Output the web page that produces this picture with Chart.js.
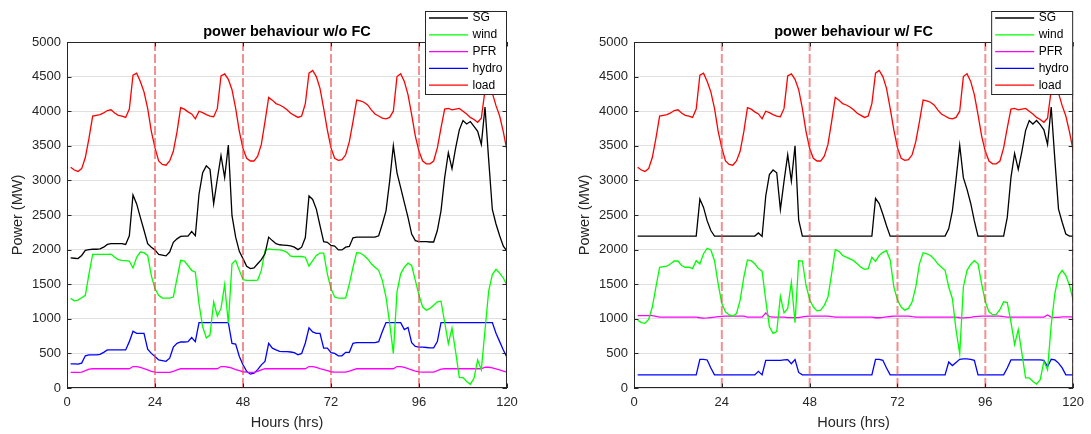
<!DOCTYPE html>
<html lang="en">
<head>
  <meta charset="UTF-8" />
  <title>power behaviour</title>
  <script src="https://cdn.jsdelivr.net/npm/chart.js"></script>
  <style>
    html, body { margin: 0; padding: 0; background: #fff; }
    #wrap { position: relative; width: 1091px; height: 434px; }
    #wrap canvas { position: absolute; top: 0; }
    #left { left: 0; }
    #right { left: 567px; }
  </style>
</head>
<body>
  <div id="wrap">
    <canvas id="left" width="567" height="434"></canvas>
    <canvas id="right" width="524" height="434"></canvas>
  </div>

  <script>
    // hourly samples, hour 1..120
    const hours = Array.from({ length: 120 }, (_, i) => i + 1);
    const dayMarks = [24, 48, 72, 96, 120];
    const seriesNames = ['SG', 'wind', 'PFR', 'hydro', 'load'];
    const seriesColors = ['#000000', '#00ff00', '#ff00ff', '#0000ff', '#ff0000'];

    const load = [
      3190, 3150, 3130, 3170, 3330, 3610, 3930, 3940, 3950, 3975, 4010, 4020, 3975, 3940, 3930, 3910, 4030, 4520, 4550, 4430,
      4280, 4040, 3710, 3470, 3280, 3230, 3220, 3280, 3420, 3700, 4050, 4030, 3990, 3960, 3890, 4000, 3980, 3950, 3930, 3920,
      4040, 4510, 4540, 4460, 4310, 4040, 3710, 3460, 3320, 3280, 3280, 3350, 3520, 3850, 4200, 4160, 4110, 4090, 4060, 4020,
      3970, 3940, 3910, 3930, 4110, 4550, 4590, 4500, 4330, 4040, 3730, 3470, 3320, 3290, 3300, 3370, 3560, 3850, 4160, 4150,
      4130, 4090, 4020, 3960, 3930, 3900, 3890, 3910, 4000, 4500, 4540, 4430, 4240, 3950, 3640, 3420, 3280, 3240, 3240, 3280,
      3470, 3760, 4030, 4040, 4020, 4030, 4040, 4000, 3960, 3910, 3880, 3840, 3900, 4300, 4520, 4260, 4080, 3930, 3700, 3430
    ];

    // without FC
    const sgNoFC = [
      1880, 1875, 1870, 1915, 1990, 2000, 2005, 2005, 2010, 2035, 2075, 2085, 2085, 2085, 2085, 2075, 2200, 2790, 2660, 2465,
      2280, 2085, 2035, 1995, 1930, 1920, 1910, 1965, 2105, 2155, 2190, 2195, 2195, 2260, 2200, 2800, 3110, 3210, 3160, 2660,
      3020, 3360, 3040, 3510, 2490, 2180, 1975, 1870, 1760, 1725, 1735, 1795, 1855, 1940, 2180, 2130, 2085, 2070, 2065, 2060,
      2055, 2035, 2000, 2035, 2175, 2775, 2725, 2585, 2345, 2115, 2105, 2060, 2050, 1995, 1995, 2035, 2045, 2170, 2180, 2180,
      2180, 2180, 2180, 2180, 2200, 2370, 2560, 2990, 3500, 3110, 2895, 2680, 2465, 2225, 2130, 2115, 2115, 2115, 2110, 2110,
      2275, 2560, 3040, 3400, 3170, 3470, 3730, 3865, 3815, 3850, 3780, 3710, 3520, 4060, 3300, 2580, 2370, 2200, 2050, 1980
    ];
    const windNoFC = [
      1295, 1260, 1270, 1305, 1340, 1650, 1930, 1930, 1930, 1930, 1930, 1935, 1890, 1855, 1845, 1840, 1835, 1735, 1890, 1965,
      1955, 1915, 1625, 1435, 1340, 1300, 1300, 1300, 1315, 1580, 1845, 1835, 1770, 1700, 1675, 1220, 885, 725, 765, 1245,
      1040, 1150, 1495, 935, 1795, 1845, 1700, 1565, 1555, 1555, 1555, 1560, 1700, 1985, 2010, 2000, 2000, 1995, 1985, 1960,
      1905, 1900, 1900, 1900, 1890, 1760, 1840, 1915, 1950, 1950, 1650, 1435, 1315, 1300, 1300, 1300, 1505, 1745, 1955, 1950,
      1915, 1865, 1795, 1745, 1700, 1555, 1315, 935, 500, 1390, 1650, 1745, 1805, 1770, 1555, 1340, 1170, 1125, 1150, 1195,
      1245, 1255, 950, 640, 865, 520, 150, 150, 95, 55, 140, 405, 262, 835, 1400, 1640, 1715, 1660, 1590, 1480
    ];
    const pfrNoFC = [
      225, 225, 225, 230, 250, 272, 278, 278, 278, 278, 278, 278, 278, 278, 278, 278, 278, 310, 310, 297,
      280, 263, 240, 230, 225, 225, 225, 225, 240, 263, 278, 278, 278, 278, 278, 278, 278, 278, 278, 278,
      278, 310, 310, 300, 287, 265, 250, 235, 228, 225, 225, 240, 263, 280, 278, 278, 278, 278, 278, 278,
      278, 278, 278, 278, 278, 310, 310, 298, 280, 265, 250, 235, 230, 230, 230, 230, 245, 263, 278, 278,
      278, 278, 278, 278, 278, 278, 278, 278, 278, 310, 310, 297, 280, 263, 245, 234, 230, 230, 230, 230,
      250, 272, 278, 278, 278, 278, 278, 278, 278, 278, 278, 278, 278, 300, 300, 292, 278, 263, 245, 230
    ];
    const hydroNoFC = [
      350, 350, 345, 360, 465, 478, 480, 480, 485, 515, 550, 550, 550, 550, 550, 550, 670, 820, 790, 790,
      790, 560, 500, 455, 405, 397, 385, 430, 590, 645, 665, 665, 670, 730, 670, 945, 945, 945, 945, 945,
      945, 945, 945, 945, 645, 635, 455, 335, 240, 200, 215, 265, 335, 385, 645, 575, 550, 530, 525, 525,
      520, 510, 480, 500, 650, 870, 810, 790, 790, 575, 575, 510, 500, 465, 465, 515, 515, 645, 655, 655,
      655, 655, 655, 655, 670, 815, 945, 945, 945, 945, 945, 845, 875, 655, 600, 590, 590, 585, 580, 580,
      670, 945, 945, 945, 945, 945, 945, 945, 945, 945, 945, 945, 945, 945, 945, 945, 790, 670, 550, 440
    ];

    // with FC
    const sgFC = [
      2195, 2195, 2195, 2195, 2195, 2195, 2195, 2195, 2195, 2195, 2195, 2195, 2195, 2195, 2195, 2195, 2195, 2730, 2610, 2415,
      2275, 2195, 2195, 2195, 2195, 2195, 2195, 2195, 2195, 2195, 2195, 2195, 2195, 2240, 2190, 2775, 3085, 3150, 3110, 2580,
      2990, 3370, 2990, 3500, 2430, 2195, 2195, 2195, 2195, 2195, 2195, 2195, 2195, 2195, 2195, 2195, 2195, 2195, 2195, 2195,
      2195, 2195, 2195, 2195, 2195, 2740, 2665, 2510, 2345, 2195, 2195, 2195, 2195, 2195, 2195, 2195, 2195, 2195, 2195, 2195,
      2195, 2195, 2195, 2195, 2195, 2300, 2560, 3015, 3510, 3040, 2870, 2670, 2415, 2195, 2195, 2195, 2195, 2195, 2195, 2195,
      2195, 2465, 3040, 3390, 3160, 3420, 3720, 3865, 3815, 3865, 3805, 3730, 3520, 4060, 3300, 2585, 2395, 2225, 2195, 2195
    ];
    const windFC = [
      980, 945, 935, 990, 1170, 1460, 1745, 1755, 1760, 1795, 1835, 1835, 1770, 1745, 1745, 1725, 1840, 1795, 1940, 2020,
      1995, 1840, 1505, 1220, 1100, 1055, 1040, 1075, 1270, 1600, 1850, 1840, 1795, 1725, 1690, 1270, 885, 790, 815, 1325,
      1085, 1150, 1530, 945, 1840, 1835, 1485, 1280, 1170, 1115, 1125, 1195, 1315, 1650, 2000, 1975, 1915, 1890, 1865, 1840,
      1795, 1745, 1715, 1725, 1890, 1830, 1915, 1960, 1985, 1850, 1460, 1270, 1170, 1125, 1150, 1245, 1460, 1795, 1955, 1940,
      1915, 1865, 1795, 1745, 1700, 1460, 1290, 840, 495, 1460, 1700, 1785, 1840, 1795, 1505, 1245, 1100, 1060, 1065, 1135,
      1245, 1235, 955, 630, 845, 500, 145, 145, 95, 55, 120, 385, 262, 910, 1365, 1625, 1700, 1625, 1485, 1270
    ];
    const pfrFC = [
      1045, 1045, 1045, 1045, 1045, 1035, 1025, 1025, 1025, 1025, 1025, 1025, 1025, 1025, 1025, 1025, 1025, 1015, 1010, 1012,
      1018, 1025, 1030, 1035, 1040, 1040, 1040, 1040, 1040, 1040, 1025, 1025, 1025, 1025, 1025, 1085, 1030, 1025, 1025, 1025,
      1025, 1018, 1018, 1018, 1018, 1028, 1035, 1040, 1040, 1040, 1040, 1040, 1040, 1032, 1025, 1025, 1025, 1025, 1025, 1025,
      1025, 1025, 1025, 1025, 1025, 1015, 1015, 1020, 1028, 1033, 1038, 1040, 1040, 1040, 1040, 1030, 1025, 1025, 1025, 1025,
      1025, 1025, 1025, 1025, 1025, 1025, 1025, 1025, 1015, 1012, 1018, 1022, 1030, 1035, 1040, 1040, 1040, 1040, 1040, 1040,
      1030, 1025, 1025, 1025, 1025, 1025, 1025, 1025, 1025, 1025, 1025, 1025, 1055, 1025, 1022, 1022, 1028, 1028, 1028, 1028
    ];
    const hydroFC = [
      190, 190, 190, 190, 190, 190, 190, 190, 190, 190, 190, 190, 190, 190, 190, 190, 190, 415, 415, 405,
      290, 190, 190, 190, 190, 190, 190, 190, 190, 190, 190, 190, 190, 240, 190, 400, 400, 400, 400, 400,
      405, 410, 350, 410, 225, 190, 190, 190, 190, 190, 190, 190, 190, 190, 190, 190, 190, 190, 190, 190,
      190, 190, 190, 190, 190, 415, 415, 400, 290, 190, 190, 190, 190, 190, 190, 190, 190, 190, 190, 190,
      190, 190, 190, 190, 190, 375, 325, 370, 415, 420, 420, 415, 400, 190, 190, 190, 190, 190, 190, 190,
      190, 290, 405, 405, 405, 405, 405, 405, 405, 405, 405, 400, 310, 415, 405, 360, 290, 190, 190, 190
    ];

    Chart.defaults.font.family = "'Liberation Sans', Arial, sans-serif";
    const axisColor = '#262626';

    // dashed day separators, axes box with inward ticks, and the legend box
    const decorPlugin = {
      id: 'decor',
      afterDatasetsDraw(chart) {
        const { ctx, chartArea: a, scales: { x } } = chart;
        ctx.save();
        ctx.beginPath();
        ctx.rect(a.left, a.top, a.right - a.left, a.bottom - a.top);
        ctx.clip();
        ctx.strokeStyle = 'rgba(235, 70, 70, 0.6)';
        ctx.lineWidth = 2;
        ctx.setLineDash([9, 3]);
        dayMarks.forEach(h => {
          const px = x.getPixelForValue(h);
          ctx.beginPath();
          ctx.moveTo(px, a.top);
          ctx.lineTo(px, a.bottom);
          ctx.stroke();
        });
        ctx.restore();
      },
      afterDraw(chart) {
        const { ctx, chartArea: a, scales: { x, y } } = chart;
        ctx.save();
        ctx.strokeStyle = axisColor;
        ctx.lineWidth = 1;
        ctx.strokeRect(a.left + 0.5, a.top + 0.5, a.right - a.left - 1, a.bottom - a.top - 1);
        ctx.beginPath();
        y.ticks.forEach(t => {
          const py = Math.round(y.getPixelForValue(t.value)) + 0.5;
          ctx.moveTo(a.left, py); ctx.lineTo(a.left + 4.5, py);
          ctx.moveTo(a.right, py); ctx.lineTo(a.right - 4.5, py);
        });
        x.ticks.forEach(t => {
          const px = Math.round(x.getPixelForValue(t.value)) + 0.5;
          ctx.moveTo(px, a.bottom); ctx.lineTo(px, a.bottom - 4.5);
          ctx.moveTo(px, a.top); ctx.lineTo(px, a.top + 4.5);
        });
        ctx.stroke();

        // legend
        const w = 82, h = 84;
        const lx = a.right - w, ly = 11;
        ctx.fillStyle = '#ffffff';
        ctx.fillRect(lx, ly, w, h);
        ctx.strokeStyle = axisColor;
        ctx.strokeRect(lx + 0.5, ly + 0.5, w - 1, h - 1);
        ctx.font = "12px 'Liberation Sans', Arial, sans-serif";
        ctx.textBaseline = 'middle';
        chart.data.datasets.forEach((ds, i) => {
          const ry = ly + 7 + i * 16.8;
          ctx.strokeStyle = ds.borderColor;
          ctx.lineWidth = 1.3;
          ctx.beginPath();
          ctx.moveTo(lx + 4, ry);
          ctx.lineTo(lx + 43, ry);
          ctx.stroke();
          ctx.fillStyle = '#000000';
          ctx.fillText(ds.label, lx + 47.5, ry);
        });
        ctx.restore();
      }
    };

    function makeChart(id, title, values, rightPad) {
      const datasets = values.map((v, i) => ({
        label: seriesNames[i],
        data: v.map((val, k) => ({ x: hours[k], y: val })),
        borderColor: seriesColors[i],
        backgroundColor: seriesColors[i],
        borderWidth: 1.3,
        pointRadius: 0,
        tension: 0,
        fill: false
      }));
      return new Chart(document.getElementById(id), {
        type: 'line',
        data: { datasets },
        options: {
          responsive: false,
          animation: false,
          layout: { padding: { left: 0, right: rightPad, top: 0, bottom: 0 } },
          plugins: {
            legend: { display: false },
            tooltip: { enabled: false },
            title: {
              display: true,
              text: title,
              fullSize: false,
              color: '#000000',
              font: { size: 14.5, weight: 'bold', lineHeight: 1.2 },
              padding: { top: 23.3, bottom: 1.3 }
            }
          },
          scales: {
            x: {
              type: 'linear',
              min: 0,
              max: 120,
              afterFit: s => { s.height = 46; },
              grid: { display: false, drawTicks: false },
              border: { display: false },
              ticks: {
                stepSize: 24,
                autoSkip: false,
                maxRotation: 0,
                padding: 7,
                color: axisColor,
                font: { size: 13 },
                callback: v => String(v)
              },
              title: {
                display: true,
                text: 'Hours (hrs)',
                color: axisColor,
                font: { size: 14.5 },
                padding: { top: 0, bottom: 2.3 }
              }
            },
            y: {
              min: 0,
              max: 5000,
              afterFit: s => { s.width = 67; },
              grid: { color: '#dfdfdf', drawTicks: false },
              border: { display: false },
              ticks: {
                stepSize: 500,
                padding: 6,
                color: axisColor,
                font: { size: 13 },
                callback: v => String(v)
              },
              title: {
                display: true,
                text: 'Power (MW)',
                color: axisColor,
                font: { size: 14.5 },
                padding: { top: 9.3, bottom: 0 }
              }
            }
          }
        },
        plugins: [decorPlugin]
      });
    }

    makeChart('left', 'power behaviour w/o FC', [sgNoFC, windNoFC, pfrNoFC, hydroNoFC, load], 60);
    makeChart('right', 'power behaviour w/ FC', [sgFC, windFC, pfrFC, hydroFC, load], 17);
  </script>
</body>
</html>
